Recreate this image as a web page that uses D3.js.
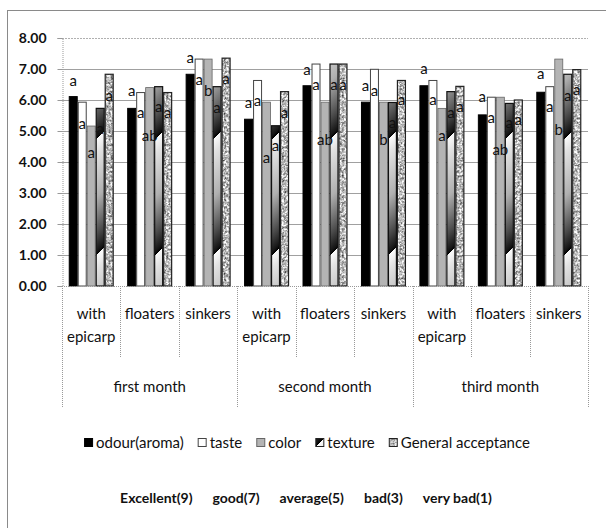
<!DOCTYPE html>
<html>
<head>
<meta charset="utf-8">
<script src="https://cdn.jsdelivr.net/npm/d3@7"></script>
<style>
  body { margin: 0; background: #fff; overflow: hidden; }
  text { font-family: Lato, "Open Sans", sans-serif; fill: #111; }
</style>
</head>
<body>
<div id="chart"></div>
<script>
// Data
var months = ["first month", "second month", "third month"];
var samples = ["with epicarp", "floaters", "sinkers"];
var series = ["odour(aroma)", "taste", "color", "texture", "General acceptance"];

var odour   = [6.11, 5.73, 6.83, 5.38, 6.46, 5.93, 6.46, 5.52, 6.25];
var taste   = [5.93, 6.24, 7.32, 6.63, 7.16, 6.99, 6.63, 6.09, 6.43];
var color   = [5.16, 6.40, 7.32, 5.93, 5.93, 5.93, 5.73, 6.09, 7.32];
var texture = [5.73, 6.43, 6.43, 5.17, 7.16, 5.92, 6.27, 5.89, 6.83];
var general = [6.83, 6.24, 7.35, 6.27, 7.16, 6.63, 6.44, 6.00, 6.98];

// Huruf signifikansi dan tinggi letaknya (dalam satuan nilai)
var letters = [
  ["a", "a", "a", "a", "a", "a", "a", "a", "a"],
  ["a", "a", "a", "a", "a", "a", "a", "a", "a"],
  ["a", "ab", "b", "a", "ab", "b", "a", "ab", "b"],
  ["a", "a", "a", "a", "a", "a", "a", "a", "a"],
  ["a", "a", "a", "a", "a", "a", "a", "a", "a"]
];
var letterAt = [
  [6.61, 6.29, 7.34, 5.91, 6.97, 6.45, 6.99, 6.08, 6.84],
  [5.23, 5.59, 6.65, 5.95, 6.48, 6.30, 6.00, 5.41, 5.76],
  [4.30, 4.82, 6.27, 4.12, 4.71, 4.71, 4.82, 4.39, 5.03],
  [5.05, 5.76, 5.75, 4.52, 6.48, 5.25, 5.59, 5.25, 6.13],
  [6.13, 5.59, 6.67, 5.59, 6.48, 5.98, 5.78, 5.35, 6.32]
];

var yTicks = [0, 1, 2, 3, 4, 5, 6, 7, 8];
var scaleNotes = ["Excellent(9)", "good(7)", "average(5)", "bad(3)", "very bad(1)"];

var values = [odour, taste, color, texture, general];

var W = 606, H = 528;
var plot = { left: 62, right: 588, top: 38, bottom: 286 };

var svg = d3.select("#chart").append("svg")
    .attr("width", W)
    .attr("height", H)
    .style("display", "block");

var defs = svg.append("defs");

// Tekstur granit untuk General acceptance
var noise = defs.append("filter").attr("id", "noise")
    .attr("x", 0).attr("y", 0).attr("width", 1).attr("height", 1)
    .attr("color-interpolation-filters", "sRGB");
noise.append("feTurbulence")
    .attr("type", "fractalNoise")
    .attr("baseFrequency", 0.45)
    .attr("numOctaves", 3)
    .attr("seed", 4);
noise.append("feColorMatrix")
    .attr("type", "matrix")
    .attr("values", "1.3 0 0 0 0.08  1.3 0 0 0 0.08  1.3 0 0 0 0.08  0 0 0 0 1");
var granite = defs.append("pattern").attr("id", "granite")
    .attr("patternUnits", "userSpaceOnUse")
    .attr("width", 80).attr("height", 80);
granite.append("rect")
    .attr("width", 80).attr("height", 80)
    .attr("fill", "#bbb")
    .attr("filter", "url(#noise)");

// Skala
var groups = d3.range(months.length * samples.length);

var x0 = d3.scaleBand()
    .domain(groups)
    .range([plot.left, plot.right])
    .padding(0);

var x1 = d3.scaleBand()
    .domain(d3.range(series.length))
    .range([0, x0.bandwidth()])
    .paddingInner(0)
    .paddingOuter(0.75);

var y = d3.scaleLinear()
    .domain([0, 8])
    .range([plot.bottom, plot.top]);

// Bingkai luar
svg.append("rect")
    .attr("x", 7.5).attr("y", 10.5)
    .attr("width", 640).attr("height", 560)
    .attr("fill", "none")
    .attr("stroke", "#8a8a8a");

// Garis grid
svg.append("g")
    .selectAll("line")
    .data(yTicks.filter(function(d) { return d > 0 && d < 8; }))
    .enter().append("line")
    .attr("x1", plot.left).attr("x2", plot.right)
    .attr("y1", function(d) { return Math.round(y(d)) + 0.5; })
    .attr("y2", function(d) { return Math.round(y(d)) + 0.5; })
    .attr("stroke", "#a0a0a0");

// Garis tepi plot atas (putus-putus)
svg.append("line")
    .attr("x1", plot.left).attr("x2", plot.right)
    .attr("y1", plot.top + 0.5).attr("y2", plot.top + 0.5)
    .attr("stroke", "#b0b0b0")
    .attr("stroke-dasharray", "2,1");

// Sumbu y
var yAxis = svg.append("g")
    .attr("transform", "translate(" + (plot.left + 0.5) + ",0)")
    .call(d3.axisLeft(y)
        .tickValues(yTicks)
        .tickSize(5)
        .tickPadding(11)
        .tickFormat(d3.format(".2f")));
yAxis.select(".domain")
    .attr("stroke", "#999")
    .attr("stroke-dasharray", "1,1");
yAxis.selectAll(".tick line").attr("stroke", "#999");
yAxis.selectAll(".tick text")
    .style("font-size", "14px")
    .style("font-weight", "bold")
    .attr("fill", "#111");

// Batang
var seriesG = svg.append("g")
    .selectAll("g")
    .data(values)
    .enter().append("g");

seriesG.each(function(vals, s) {
    var g = d3.select(this);
    vals.forEach(function(v, i) {
        var bx = x0(i) + x1(s);
        var fill, stroke = "#222", sw = 1;
        if (s === 0) { fill = "#000"; stroke = "#000"; }
        else if (s === 1) { fill = "#fff"; stroke = "#444"; }
        else if (s === 2) { fill = "#b4b4b4"; stroke = "#666"; sw = 0.8; }
        else if (s === 3) {
            // Gradien metalik berulang untuk texture
            var id = "metal" + i;
            var grad = defs.append("linearGradient").attr("id", id)
                .attr("gradientUnits", "userSpaceOnUse")
                .attr("spreadMethod", "repeat")
                .attr("x1", bx).attr("y1", plot.bottom - 30)
                .attr("x2", bx + 58).attr("y2", plot.bottom + 28);
            [[0, "#fbfbfb"], [0.12, "#e2e2e2"], [0.5, "#b0b0b0"], [0.82, "#4a4a4a"],
             [0.97, "#151515"], [1, "#000"]].forEach(function(st) {
                grad.append("stop").attr("offset", st[0]).attr("stop-color", st[1]);
            });
            fill = "url(#" + id + ")"; stroke = "#111"; sw = 1.2;
        }
        else { fill = "url(#granite)"; stroke = "#222"; sw = 1.2; }

        g.append("rect")
            .attr("x", bx + 0.5)
            .attr("y", y(v))
            .attr("width", x1.bandwidth() - 1)
            .attr("height", y(0) - y(v))
            .attr("fill", fill)
            .attr("stroke", stroke)
            .attr("stroke-width", sw);
    });
});

// Sumbu kategori (garis dasar)
svg.append("line")
    .attr("x1", plot.left).attr("x2", plot.right)
    .attr("y1", plot.bottom + 0.5).attr("y2", plot.bottom + 0.5)
    .attr("stroke", "#999")
    .attr("stroke-dasharray", "1,1");

// Huruf signifikansi
values.forEach(function(vals, s) {
    vals.forEach(function(v, i) {
        svg.append("text")
            .attr("x", x0(i) + x1(s) + x1.bandwidth() / 2)
            .attr("y", y(letterAt[s][i]))
            .attr("dy", "0.32em")
            .attr("text-anchor", "middle")
            .style("font-size", "15px")
            .text(letters[s][i]);
    });
});

// Garis pemisah kategori
var sepG = svg.append("g");
d3.range(groups.length + 1).forEach(function(k) {
    var xx = (k < groups.length ? x0(k) : plot.right);
    var isMonth = (k % samples.length === 0);
    sepG.append("line")
        .attr("x1", Math.round(xx) + 0.5).attr("x2", Math.round(xx) + 0.5)
        .attr("y1", plot.bottom)
        .attr("y2", isMonth ? 407 : 357)
        .attr("stroke", "#999")
        .attr("stroke-dasharray", "1,1");
});

// Label sampel
groups.forEach(function(i) {
    var name = samples[i % samples.length];
    var cx = x0(i) + x0.bandwidth() / 2;
    var lines = name === "with epicarp" ? ["with", "epicarp"] : [name];
    lines.forEach(function(t, j) {
        svg.append("text")
            .attr("x", cx)
            .attr("y", 314 + j * 23)
            .attr("dy", "0.35em")
            .attr("text-anchor", "middle")
            .style("font-size", "15px")
            .text(t);
    });
});

// Label bulan
months.forEach(function(m, k) {
    var a = x0(k * samples.length);
    var b = k < months.length - 1 ? x0((k + 1) * samples.length) : plot.right;
    svg.append("text")
        .attr("x", (a + b) / 2)
        .attr("y", 387)
        .attr("dy", "0.35em")
        .attr("text-anchor", "middle")
        .style("font-size", "15px")
        .text(m);
});

// Legenda
var legend = svg.append("g");
var lx = 0;
series.forEach(function(name, s) {
    var item = legend.append("g").attr("transform", "translate(" + lx + ",0)");
    var sw;
    if (s === 0) sw = { fill: "#000", stroke: "#000" };
    else if (s === 1) sw = { fill: "#fff", stroke: "#444" };
    else if (s === 2) sw = { fill: "#b4b4b4", stroke: "#666" };
    else if (s === 3) sw = { fill: "url(#metal0)", stroke: "#222" };
    else sw = { fill: "url(#granite)", stroke: "#222" };
    item.append("rect")
        .attr("x", 0.5).attr("y", -4.5)
        .attr("width", 8).attr("height", 8)
        .attr("fill", sw.fill)
        .attr("stroke", sw.stroke);
    var t = item.append("text")
        .attr("x", 12)
        .attr("dy", "0.35em")
        .style("font-size", "15px")
        .text(name);
    lx += 12 + t.node().getComputedTextLength() + 14;
});
lx -= 14;
legend.attr("transform", "translate(" + (307 - lx / 2) + ",443)");

// Keterangan skala penilaian
var notes = svg.append("g");
var nx = 0;
scaleNotes.forEach(function(n) {
    var t = notes.append("text")
        .attr("x", nx)
        .attr("dy", "0.35em")
        .style("font-size", "14px")
        .style("font-weight", "bold")
        .attr("fill", "#222")
        .text(n);
    nx += t.node().getComputedTextLength() + 20;
});
nx -= 20;
notes.attr("transform", "translate(" + (306 - nx / 2) + ",498)");
</script>
</body>
</html>
